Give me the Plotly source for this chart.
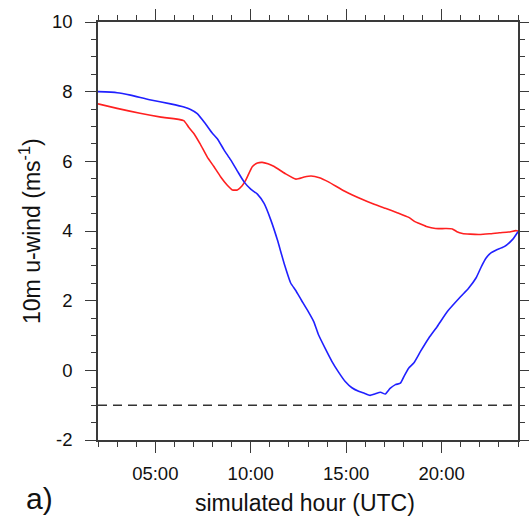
import plotly.graph_objects as go

# Data
blue_hours = [2.0, 3.0, 3.7, 4.7, 5.8, 6.5, 6.85, 7.2, 7.6, 8.0, 8.25, 8.6, 8.95, 9.3, 9.65, 10.0,
              10.35, 10.7, 11.05, 11.4, 11.75, 12.1, 12.35, 12.65, 13.0, 13.3, 13.55, 13.9, 14.25,
              14.6, 14.95, 15.3, 15.65, 15.95, 16.25, 16.5, 16.8, 17.05, 17.3, 17.58, 17.84, 18.05,
              18.28, 18.54, 18.9, 19.33, 19.77, 20.3, 21.0, 21.4, 21.8, 22.1, 22.32, 22.6, 22.84,
              23.28, 23.72, 24.0]
blue_uwind = [8.0, 7.97, 7.9, 7.77, 7.65, 7.56, 7.49, 7.37, 7.1, 6.8, 6.65, 6.33, 6.04, 5.72, 5.41, 5.2,
              5.06, 4.79, 4.32, 3.74, 3.07, 2.5, 2.3, 2.02, 1.7, 1.4, 1.02, 0.63, 0.26,
              -0.05, -0.32, -0.5, -0.6, -0.66, -0.72, -0.68, -0.63, -0.68, -0.52, -0.41, -0.37, -0.15,
              0.07, 0.21, 0.55, 0.93, 1.26, 1.69, 2.12, 2.35, 2.65, 3.0, 3.22, 3.38, 3.45,
              3.55, 3.76, 3.98]

red_hours = [2.0, 3.0, 4.2, 5.3, 6.49, 6.75, 7.02, 7.35, 7.72, 8.07, 8.42, 8.75, 9.04, 9.3, 9.55, 9.74,
             10.09, 10.35, 10.6, 10.9, 11.23, 11.8, 12.37, 12.8, 13.16, 13.6, 14.07, 14.9, 15.83,
             16.4, 17.05, 17.7, 18.28, 18.6, 18.81, 19.2, 19.68, 20.2, 20.56, 20.8, 21.09, 21.5,
             21.96, 22.5, 23.02, 23.5, 23.89, 24.0]
red_uwind = [7.65, 7.52, 7.38, 7.27, 7.17, 6.98, 6.8, 6.5, 6.13, 5.85, 5.56, 5.33, 5.18, 5.18, 5.3, 5.46,
             5.85, 5.95, 5.97, 5.93, 5.85, 5.65, 5.49, 5.55, 5.58, 5.53, 5.41, 5.15, 4.91,
             4.78, 4.65, 4.52, 4.39, 4.27, 4.22, 4.13, 4.07, 4.07, 4.06, 3.98, 3.93, 3.91,
             3.90, 3.92, 3.95, 3.97, 4.01, 4.0]

ref_hours = [2.0, 24.0]
ref_uwind = [-1.0, -1.0]

x_tickvals = [5, 10, 15, 20]
x_ticktext = ["05:00", "10:00", "15:00", "20:00"]
y_tickvals = [-2, 0, 2, 4, 6, 8, 10]
y_ticktext = ["-2", "0", "2", "4", "6", "8", "10"]

x_title = "simulated hour (UTC)"
y_title = "10m u-wind (ms<sup>-1</sup>)"
panel_label = "a)"

axis_color = "#3a3a3a"
font_family = "Liberation Sans, Arial, Helvetica, sans-serif"
text_color = "#111111"

L, R, T, B = 98, 11, 22, 77
W, H = 529, 517
pw, ph = W - L - R, H - T - B

fig = go.Figure()
fig.add_trace(go.Scatter(x=ref_hours, y=ref_uwind, mode="lines",
                         line=dict(color="#333333", width=1.5, dash="9px,6px"),
                         showlegend=False, hoverinfo="skip"))
fig.add_trace(go.Scatter(x=red_hours, y=red_uwind, mode="lines",
                         line=dict(color="#ff2020", width=1.6, shape="spline", smoothing=0.5),
                         showlegend=False))
fig.add_trace(go.Scatter(x=blue_hours, y=blue_uwind, mode="lines",
                         line=dict(color="#2020ff", width=1.6, shape="spline", smoothing=0.5),
                         showlegend=False))

fig.update_layout(
    width=W, height=H,
    margin=dict(l=L, r=R, t=T, b=B, autoexpand=False),
    paper_bgcolor="white", plot_bgcolor="white",
    font=dict(family=font_family, color=text_color, size=18),
    showlegend=False,
)
fig.update_xaxes(
    range=[2, 24], tickmode="array", tickvals=x_tickvals, ticktext=x_ticktext,
    ticks="outside", ticklen=11, tickwidth=1.2, tickcolor=axis_color,
    showline=True, linecolor=axis_color, linewidth=1.5, mirror="allticks",
    showgrid=False, zeroline=False, automargin=False,
    minor=dict(ticks="outside", dtick=1, tick0=2, ticklen=5, tickwidth=1, tickcolor=axis_color, showgrid=False),
    tickfont=dict(size=18.5), ticklabelstandoff=5,
)
fig.update_yaxes(
    range=[-2, 10], tickmode="array", tickvals=y_tickvals, ticktext=y_ticktext,
    ticks="outside", ticklen=11, tickwidth=1.2, tickcolor=axis_color,
    showline=True, linecolor=axis_color, linewidth=1.5, mirror="allticks",
    showgrid=False, zeroline=False, automargin=False,
    minor=dict(ticks="outside", dtick=0.5, tick0=0, ticklen=5, tickwidth=1, tickcolor=axis_color, showgrid=False),
    tickfont=dict(size=18.5), ticklabelstandoff=9,
)

def px_x(px):
    return (px - L) / pw

def px_y(py):
    return (H - B - py) / ph

fig.add_annotation(text=x_title, x=px_x(305), y=px_y(503), xref="paper", yref="paper",
                   xanchor="center", yanchor="middle", showarrow=False,
                   font=dict(size=23, family=font_family, color=text_color))
fig.add_annotation(text=y_title, x=px_x(30), y=px_y(231), xref="paper", yref="paper",
                   xanchor="center", yanchor="middle", showarrow=False, textangle=-90,
                   font=dict(size=23, family=font_family, color=text_color))
fig.add_annotation(text=panel_label, x=px_x(40), y=px_y(517), xref="paper", yref="paper",
                   xanchor="center", yanchor="bottom", showarrow=False,
                   font=dict(size=30, family=font_family, color=text_color))

fig.write_html("out.html", config={"displayModeBar": False},
               post_script="document.body.style.margin='0';document.body.style.overflow='hidden';")
